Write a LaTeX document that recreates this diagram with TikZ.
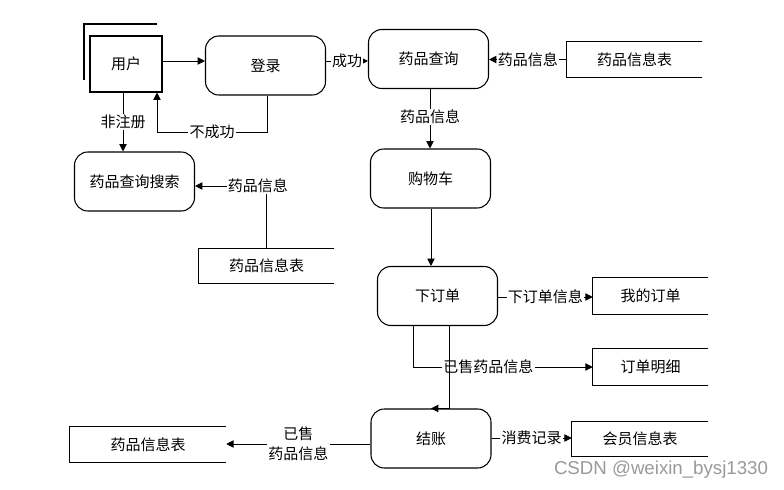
\documentclass[tikz,border=0pt]{standalone}
\usepackage{fontspec}
\setmainfont{Noto Sans CJK SC}
\newfontfamily\markfont{Liberation Sans}
\usetikzlibrary{arrows.meta}
\tikzset{
  proc/.style={draw,line width=0.8pt,rounded corners=10pt,
    minimum width=90pt,minimum height=44.25pt},
  store/.style={inner sep=0pt},
  lbl/.style={fill=white,inner sep=1pt},
  flow/.style={line width=0.6pt},
  arr/.style={flow,-{Triangle[length=5.5pt,width=5.5pt]}}
}
\begin{document}
\begin{tikzpicture}[x=0.75pt,y=-0.75pt,font=\fontsize{11.25}{15}\selectfont]
  \useasboundingbox (0,0) rectangle (784,489);
  \node[draw,line width=0.8pt,minimum width=54pt,minimum height=42pt] (user) at (126,64) {用户};
  \draw[line width=0.8pt] (84,80) -- (84,24) -- (157,24);
  \node[proc] (login) at (265.5,65.5) {登录};
  \node[proc] (query) at (428.5,59) {药品查询};
  \node[proc] (search) at (134.5,181.5) {药品查询搜索};
  \node[proc] (cart) at (430.5,178.5) {购物车};
  \node[proc] (order) at (437.5,296) {下订单};
  \node[proc] (pay) at (431,438.5) {结账};
  \node[store,minimum width=101.25pt,minimum height=26.25pt] (drug1) at (634.5,59.5) {药品信息表};
  \node[store,minimum width=101.25pt,minimum height=25.5pt] (drug2) at (266.5,266) {药品信息表};
  \node[store,minimum width=86.25pt,minimum height=27pt] (myorder) at (650.5,296) {我的订单};
  \node[store,minimum width=86.25pt,minimum height=27pt] (detail) at (650.5,367) {订单明细};
  \node[store,minimum width=117pt,minimum height=26.25pt] (drug3) at (148,444.5) {药品信息表};
  \node[store,minimum width=102pt,minimum height=25.5pt] (member) at (640,439) {会员信息表};
  \foreach \s in {drug1,drug2,myorder,detail,drug3,member}
    \draw[line width=0.8pt] (\s.north east) -- (\s.north west) -- (\s.south west) -- (\s.south east);

  \draw[arr] (user.east |- 0,61) -- (login.west |- 0,61);
  \draw[arr] (login.east |- 0,61) -- node[lbl] {成功} (query.west |- 0,61);
  \draw[arr] (drug1.west) -- node[lbl] {药品信息} (query.east |- drug1.west);
  \draw[arr] (query.south -| 430,0) -- node[lbl,pos=0.47] {药品信息} (cart.north -| 430,0);
  \draw[arr] (cart.south -| 431,0) -- (order.north -| 431,0);
  \draw[arr] (user.south -| 123,0) -- node[lbl,pos=0.5] {非注册} (search.north -| 123,0);
  \draw[arr] (login.south -| 267,0) |- node[lbl,pos=0.75] {不成功} (157,132) -- (user.south -| 157,0);
  \draw[arr] (drug2.north) |- node[lbl,pos=0.56] {药品信息} (search.east |- 0,186);
  \draw[arr] (order.east |- 0,297) -- node[lbl] {下订单信息} (myorder.west |- 0,297);
  \draw[arr] (order.south -| 413,0) |- node[lbl,pos=0.71] {已售药品信息} (detail.west);
  \draw[arr] (order.south -| 449,0) |- (pay.north);
  \draw[arr] (pay.west |- 0,444) -- node[lbl,align=center] {已售\\药品信息} (drug3.east |- 0,444);
  \draw[arr] (pay.east |- 0,438) -- node[lbl] {消费记录} (member.west |- 0,438);

  \node[text=black!40,font=\markfont\fontsize{14}{16}\selectfont] (mark) at (661,470) {CSDN @weixin\_bysj1330};
\end{tikzpicture}
\end{document}
